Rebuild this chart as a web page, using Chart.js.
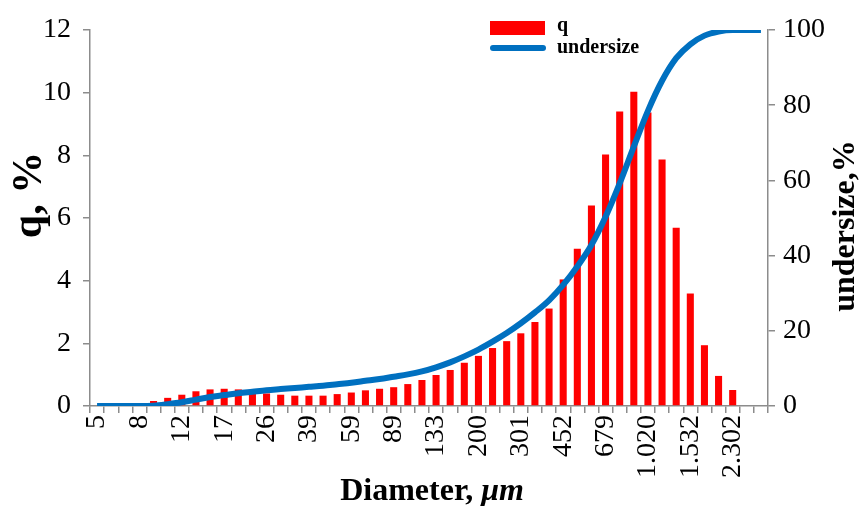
<!DOCTYPE html>
<html>
<head>
<meta charset="utf-8">
<script src="https://cdn.jsdelivr.net/npm/chart.js@4.4.1/dist/chart.umd.min.js"></script>
<style>
body { margin: 0; background: #fff; }
</style>
</head>
<body>
<canvas id="myChart" width="862" height="506"></canvas>
<script>
// particle size classes, um (only every third one gets a label)
var diameters = ['5', '6', '7', '8', '9', '10', '12', '13', '15', '17', '20', '23',
    '26', '30', '34', '39', '45', '51', '59', '67', '77', '89', '101', '116',
    '133', '153', '175', '200', '229', '263', '301', '345', '395', '452', '518', '593',
    '679', '778', '891', '1.020', '1.168', '1.338', '1.532', '1.755', '2.010', '2.302', '2.636', '3.020'];

// q, % (frequency)
var q = [0, 0, 0, 0, 0.16, 0.26, 0.36, 0.47, 0.53, 0.55, 0.53, 0.47,
    0.40, 0.36, 0.33, 0.33, 0.33, 0.38, 0.43, 0.50, 0.55, 0.60, 0.70, 0.83,
    0.99, 1.15, 1.38, 1.60, 1.85, 2.07, 2.32, 2.68, 3.11, 4.04, 5.02, 6.40,
    8.03, 9.40, 10.03, 9.37, 7.87, 5.69, 3.59, 1.94, 0.96, 0.51, 0, 0];

// undersize, % (cumulative)
var undersize = [0, 0, 0, 0, 0.1, 0.5, 1.0, 1.7, 2.4, 2.9, 3.4, 3.8,
    4.2, 4.5, 4.8, 5.1, 5.4, 5.8, 6.2, 6.7, 7.2, 7.8, 8.4, 9.2,
    10.3, 11.6, 13.2, 15.0, 17.1, 19.4, 22.0, 24.9, 28.1, 32.2, 37.1, 42.8,
    50.3, 59.2, 69.0, 78.5, 86.5, 92.5, 96.2, 98.5, 99.6, 100, 100, 100];

var barColor = '#ff0000';
var lineColor = '#0070c0';
var axisGrey = '#8c8c8c';
var serif = '"Liberation Serif", "Times New Roman", serif';

var ctx = document.getElementById('myChart').getContext('2d');

// legend and axis titles drawn by hand (mixed bold / italic text)
var extras = {
    id: 'extras',
    afterDraw: function(chart) {
        var c = chart.ctx;
        c.save();
        // legend
        c.fillStyle = barColor;
        c.fillRect(490, 21, 55, 14);
        c.strokeStyle = lineColor;
        c.lineWidth = 6;
        c.lineCap = 'round';
        c.beginPath();
        c.moveTo(493, 48);
        c.lineTo(543, 48);
        c.stroke();
        c.fillStyle = '#000';
        c.font = 'bold 20px ' + serif;
        c.textBaseline = 'alphabetic';
        c.fillText('q', 557, 31);
        c.fillText('undersize', 557, 53);

        // x title
        c.font = 'bold 32px ' + serif;
        var part1 = 'Diameter, ';
        var w1 = c.measureText(part1).width;
        c.font = 'bold italic 32px ' + serif;
        var w2 = c.measureText('\u03bcm').width;
        var x0 = 432 - (w1 + w2) / 2;
        c.font = 'bold 32px ' + serif;
        c.fillText(part1, x0, 500);
        c.font = 'bold italic 32px ' + serif;
        c.fillText('\u03bcm', x0 + w1, 500);

        // y titles
        c.textAlign = 'center';
        c.textBaseline = 'middle';
        c.save();
        c.translate(30, 195);
        c.rotate(-Math.PI / 2);
        c.font = 'bold 42px ' + serif;
        c.fillText('q, %', 0, 0);
        c.restore();
        c.save();
        c.translate(846, 226);
        c.rotate(-Math.PI / 2);
        c.font = 'bold 32px ' + serif;
        c.fillText('undersize,%', 0, 0);
        c.restore();
        c.restore();
    }
};

var myChart = new Chart(ctx, {
    type: 'bar',
    data: {
        labels: diameters,
        datasets: [{
            type: 'line',
            label: 'undersize',
            data: undersize,
            yAxisID: 'y2',
            borderColor: lineColor,
            backgroundColor: lineColor,
            borderWidth: 6,
            pointRadius: 0,
            tension: 0.4,
            cubicInterpolationMode: 'monotone',
            order: 0
        }, {
            label: 'q',
            data: q,
            yAxisID: 'y',
            backgroundColor: barColor,
            borderWidth: 0,
            barPercentage: 0.5,
            categoryPercentage: 1,
            order: 1
        }]
    },
    options: {
        responsive: false,
        animation: false,
        layout: { padding: { top: 30, left: 0, right: 0, bottom: 0 } },
        plugins: {
            legend: { display: false },
            tooltip: { enabled: false }
        },
        scales: {
            x: {
                grid: { display: true, drawOnChartArea: false, offset: true, color: axisGrey, lineWidth: 1.5, tickLength: 7 },
                border: { color: axisGrey, width: 1.5 },
                ticks: {
                    autoSkip: false,
                    maxRotation: 90,
                    minRotation: 90,
                    padding: 2,
                    color: '#000',
                    font: { family: serif, size: 28 },
                    callback: function(val, i) {
                        return i % 3 === 0 ? diameters[i] : '';
                    }
                },
                afterFit: function(scale) { scale.height = 100; }
            },
            y: {
                position: 'left',
                min: 0,
                max: 12,
                grid: { display: true, drawOnChartArea: false, color: axisGrey, lineWidth: 1.5, tickLength: 7 },
                border: { color: axisGrey, width: 1.5 },
                ticks: {
                    stepSize: 2,
                    padding: 12,
                    color: '#000',
                    font: { family: serif, size: 28 }
                },
                afterFit: function(scale) { scale.width = 90; }
            },
            y2: {
                position: 'right',
                min: 0,
                max: 100,
                grid: { display: true, drawOnChartArea: false, color: axisGrey, lineWidth: 1.5, tickLength: 7 },
                border: { color: axisGrey, width: 1.5 },
                ticks: {
                    stepSize: 20,
                    padding: 8,
                    color: '#000',
                    font: { family: serif, size: 28 }
                },
                afterFit: function(scale) { scale.width = 94; }
            }
        }
    },
    plugins: [extras]
});
</script>
</body>
</html>
